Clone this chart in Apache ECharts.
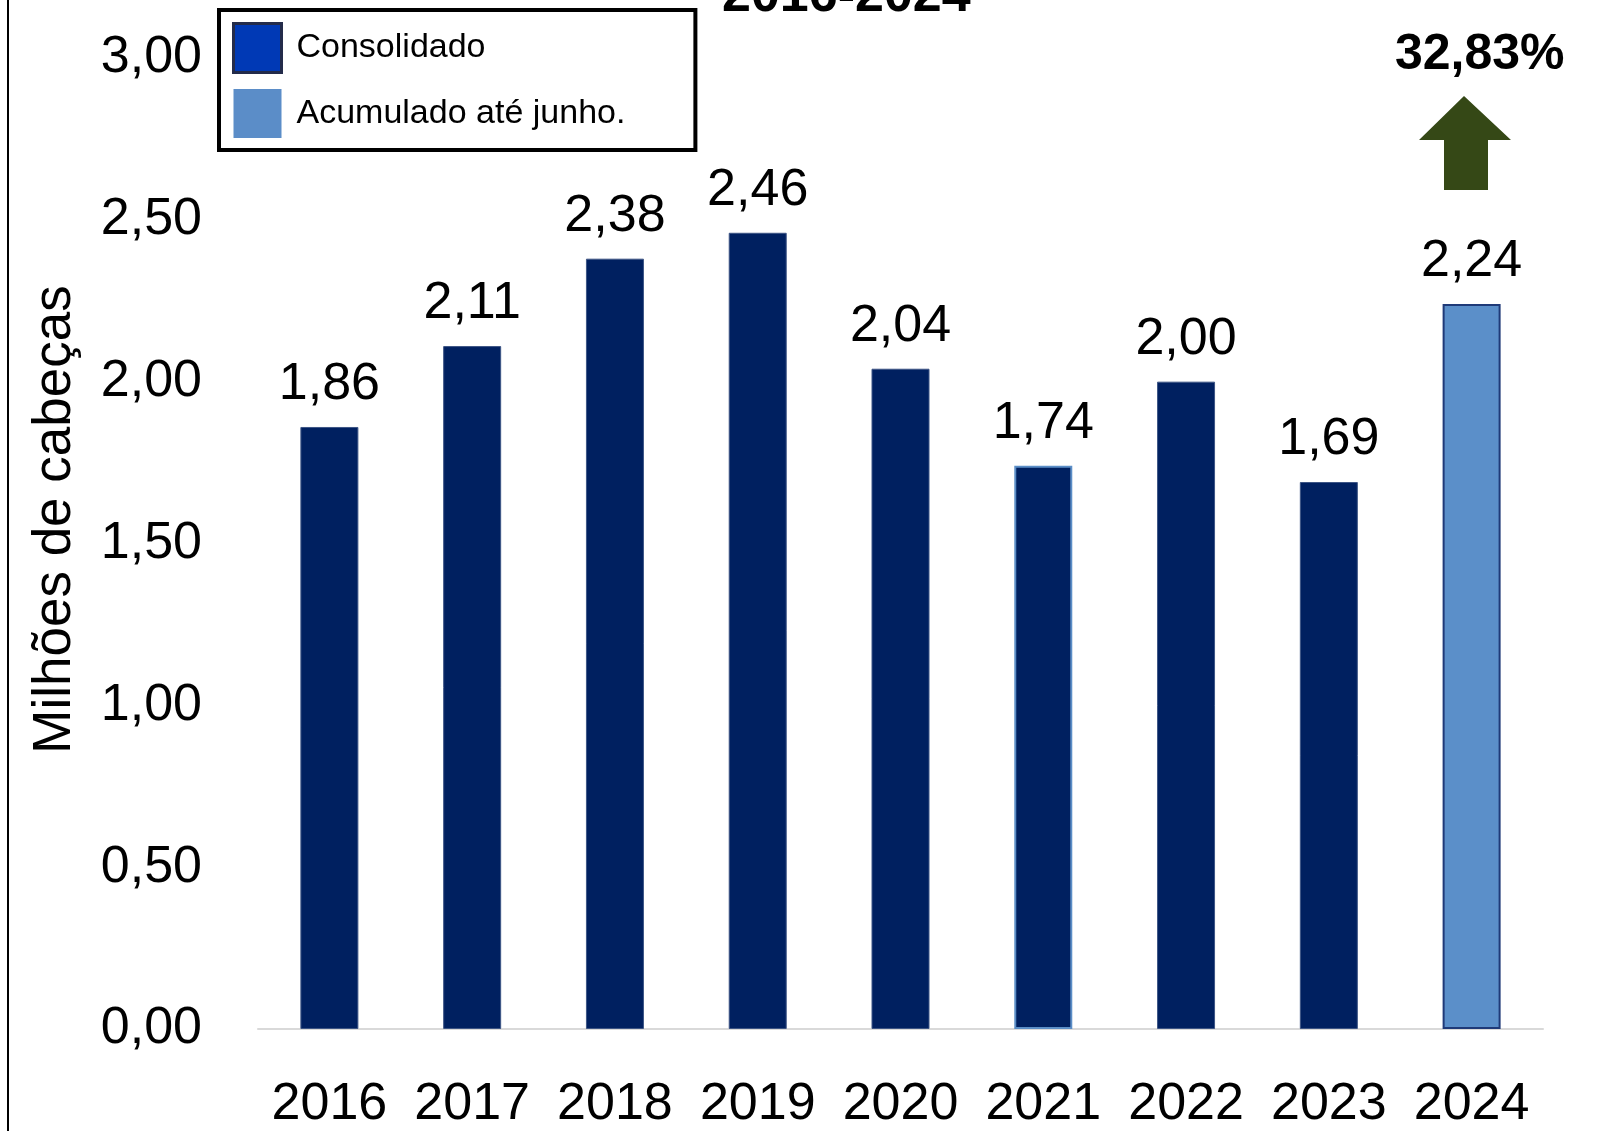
<!DOCTYPE html>
<html>
<head>
<meta charset="utf-8">
<script src="https://cdn.jsdelivr.net/npm/echarts@6/dist/echarts.min.js"></script>
<style>
  html, body { margin: 0; padding: 0; background: #fff; }
  #chart { width: 1599px; height: 1131px; }
</style>
</head>
<body>
<div id="chart"></div>
<script>
const years = ['2016', '2017', '2018', '2019', '2020', '2021', '2022', '2023', '2024']
// milhões de cabeças
const consolidado = [1.86, 2.11, 2.38, 2.46, 2.04, 1.74, 2.00, 1.69, '-']
const acumulado = ['-', '-', '-', '-', '-', '-', '-', '-', 2.24]
const yTicks = [0, 0.5, 1, 1.5, 2, 2.5, 3]
const variacao = '32,83%'

const FONT = '"Liberation Sans", Arial, sans-serif'
const fmt = (v) => Number(v).toFixed(2).replace('.', ',')

const chart = echarts.init(document.getElementById('chart'))

const option = {
  backgroundColor: '#fff',
  textStyle: { fontFamily: FONT, color: '#000' },
  grid: { left: 258, right: 56, top: 58, bottom: 101 },
  legend: {
    orient: 'vertical',
    left: 219,
    top: 10,
    padding: [12, 70, 12, 13],
    itemWidth: 48,
    itemHeight: 49,
    itemGap: 15,
    borderColor: '#000',
    borderWidth: 4,
    backgroundColor: '#fff',
    icon: 'rect',
    textStyle: { fontFamily: FONT, fontSize: 34, color: '#000', padding: [0, 0, 0, 10] },
    data: [
      { name: 'Consolidado', itemStyle: { color: '#0039b5', borderColor: '#232b4a', borderWidth: 3 } },
      { name: 'Acumulado até junho.', itemStyle: { color: '#5b8dc8', borderWidth: 0 } },
    ],
  },
  xAxis: {
    type: 'category',
    data: years,
    axisLine: { show: true, lineStyle: { color: '#d9d9d9', width: 2 } },
    axisTick: { show: false },
    axisLabel: { fontFamily: FONT, fontSize: 52, color: '#000', margin: 50, interval: 0 },
  },
  yAxis: {
    type: 'value',
    min: 0,
    max: 3,
    interval: 0.5,
    name: 'Milhões de cabeças',
    nameLocation: 'middle',
    nameRotate: 90,
    nameGap: 176,
    nameTextStyle: { fontFamily: FONT, fontSize: 53, color: '#000', padding: [0, 0, 0, 48] },
    axisLine: { show: false },
    axisTick: { show: false },
    splitLine: { show: false },
    axisLabel: {
      fontFamily: FONT,
      fontSize: 52,
      color: '#000',
      margin: 56,
      customValues: yTicks,
      formatter: fmt,
    },
  },
  series: [
    {
      name: 'Consolidado',
      type: 'bar',
      barWidth: 58,
      barGap: '-100%',
      data: consolidado.map((v, i) => ({
        value: v,
        itemStyle: {
          color: '#002060',
          borderColor: years[i] === '2021' ? '#5b8ec7' : '#3d5585',
          borderWidth: years[i] === '2021' ? 2 : 1,
        },
      })),
      label: {
        show: true,
        position: 'top',
        distance: 16,
        fontFamily: FONT,
        fontSize: 52,
        color: '#000',
        formatter: (p) => fmt(p.value),
      },
    },
    {
      name: 'Acumulado até junho.',
      type: 'bar',
      barWidth: 58,
      barGap: '-100%',
      itemStyle: { color: '#5b8fc9', borderColor: '#1f3a78', borderWidth: 2 },
      data: acumulado,
      label: {
        show: true,
        position: 'top',
        distance: 16,
        fontFamily: FONT,
        fontSize: 52,
        color: '#000',
        formatter: (p) => fmt(p.value),
      },
    },
  ],
  graphic: [
    // borda esquerda
    { type: 'line', shape: { x1: 8, y1: 0, x2: 8, y2: 1131 }, style: { stroke: '#000', lineWidth: 2 } },
    // título cortado no topo
    {
      type: 'text',
      left: 722,
      top: -29,
      style: { text: '2016-2024', font: 'bold 52px ' + FONT, fill: '#000' },
    },
    {
      type: 'text',
      left: 1395,
      top: 30,
      style: { text: variacao, font: 'bold 50px ' + FONT, fill: '#000' },
    },
    // seta de aumento
    {
      type: 'polygon',
      shape: {
        points: [[1464, 96], [1511, 140], [1488, 140], [1488, 190], [1444, 190], [1444, 140], [1419, 140]],
      },
      style: { fill: '#354816' },
    },
  ],
}

chart.setOption(option)
</script>
</body>
</html>
